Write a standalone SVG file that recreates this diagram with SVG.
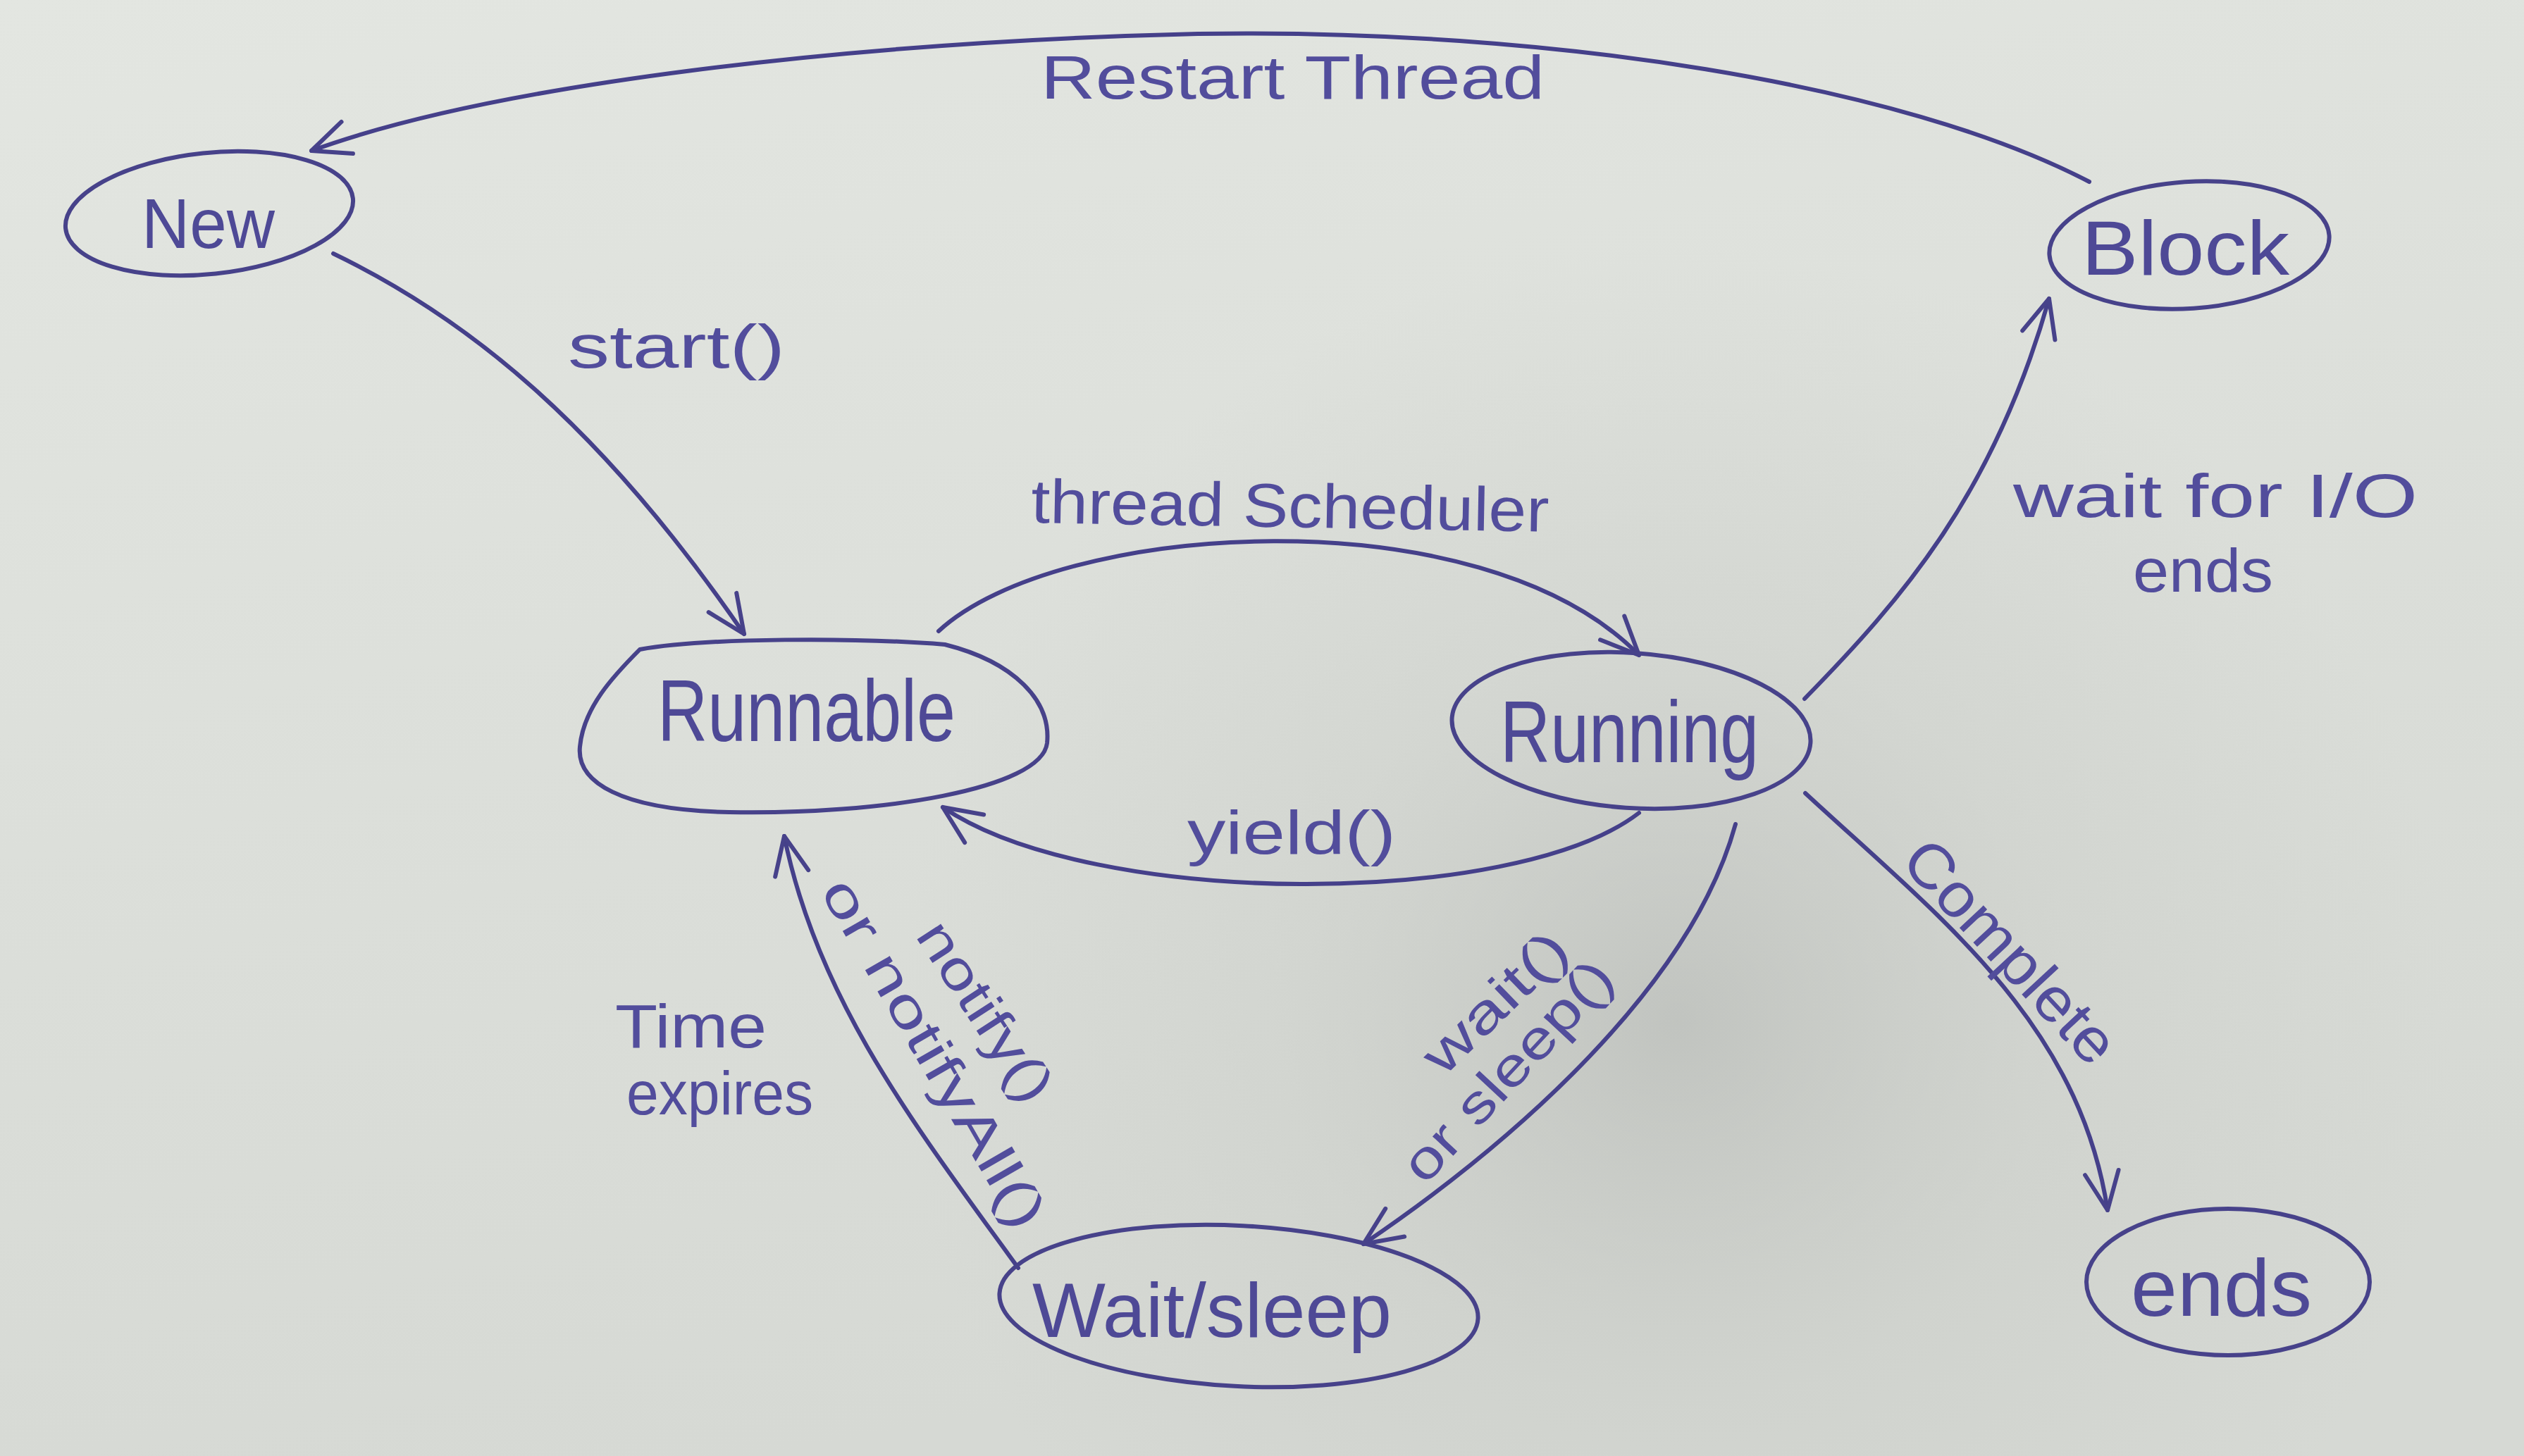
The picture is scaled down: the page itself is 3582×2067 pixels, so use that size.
<svg xmlns="http://www.w3.org/2000/svg" width="3582" height="2067" viewBox="0 0 3582 2067">
  <defs>
    <radialGradient id="shadow" cx="2380" cy="1450" r="1100" gradientUnits="userSpaceOnUse">
      <stop offset="0" stop-color="#b9bcb8" stop-opacity="0.75"/>
      <stop offset="0.5" stop-color="#c6c9c4" stop-opacity="0.35"/>
      <stop offset="1" stop-color="#c6c9c4" stop-opacity="0"/>
    </radialGradient>
    <linearGradient id="paper" x1="0" y1="0" x2="0.3" y2="1">
      <stop offset="0" stop-color="#e3e6e1"/>
      <stop offset="1" stop-color="#d6d9d4"/>
    </linearGradient>
    <marker id="arrow" viewBox="0 0 22 20" markerWidth="66" markerHeight="60" refX="20" refY="10" orient="auto" markerUnits="userSpaceOnUse">
      <path d="M2,2 L20,10 L2,18" fill="none" stroke="#47428a" stroke-width="2" stroke-linecap="round" stroke-linejoin="round"/>
    </marker>
    <style>
      .shape { fill: none; stroke: #47428a; stroke-width: 6; stroke-linecap: round; stroke-linejoin: round; }
      .edge { fill: none; stroke: #45408a; stroke-width: 6; stroke-linecap: round; marker-end: url(#arrow); }
      .node-text { font-family: "Liberation Sans", "DejaVu Sans", sans-serif; fill: #4e4996; }
      .label { font-family: "Liberation Sans", "DejaVu Sans", sans-serif; fill: #524d9c; font-size: 88px; }
      .small { font-size: 76px; }
    </style>
  </defs>

  <rect x="0" y="0" width="3582" height="2067" fill="url(#paper)"/>
  <rect x="0" y="0" width="3582" height="2067" fill="url(#shadow)"/>

  <g id="connectors">
    <path id="edge-block-new" class="edge" d="M2965,258 C2700,120 2200,40 1700,48 C1200,60 700,120 442,214"/>
    <path id="edge-new-runnable" class="edge" d="M473,360 C660,450 850,600 1056,900"/>
    <path id="edge-runnable-running" class="edge" d="M1332,896 C1500,740 2100,700 2326,930"/>
    <path id="edge-running-runnable" class="edge" d="M2326,1154 C2150,1290 1550,1290 1338,1146"/>
    <path id="edge-running-block" class="edge" d="M2561,992 C2700,850 2830,700 2908,424"/>
    <path id="edge-running-ends" class="edge" d="M2562,1126 C2750,1300 2950,1450 2991,1718"/>
    <path id="edge-running-wait" class="edge" d="M2463,1170 C2400,1400 2150,1620 1935,1766"/>
    <path id="edge-wait-runnable" class="edge" d="M1445,1800 C1300,1600 1160,1420 1113,1187"/>

    <text class="label" x="1477" y="140" textLength="715" lengthAdjust="spacingAndGlyphs" font-size="96">Restart Thread</text>
    <text class="label" x="806" y="522" textLength="308" lengthAdjust="spacingAndGlyphs">start()</text>
    <text class="label" x="1463" y="742" textLength="735" lengthAdjust="spacingAndGlyphs" transform="rotate(1 1463 742)">thread Scheduler</text>
    <text class="label" x="1685" y="1212" textLength="296" lengthAdjust="spacingAndGlyphs">yield()</text>
    <text class="label" x="2857" y="734" textLength="574" lengthAdjust="spacingAndGlyphs">wait for I/O</text>
    <text class="label" x="3027" y="840" font-size="80" textLength="199" lengthAdjust="spacingAndGlyphs">ends</text>
    <text class="label" x="2695" y="1225" textLength="400" lengthAdjust="spacingAndGlyphs" transform="rotate(47 2695 1225)">Complete</text>
    <text class="label small" x="2048" y="1530" textLength="255" lengthAdjust="spacingAndGlyphs" transform="rotate(-44 2048 1530)">wait()</text>
    <text class="label small" x="2022" y="1684" textLength="400" lengthAdjust="spacingAndGlyphs" transform="rotate(-47 2022 1684)">or sleep()</text>
    <text class="label small" x="1298" y="1328" textLength="290" lengthAdjust="spacingAndGlyphs" transform="rotate(57 1298 1328)">notify()</text>
    <text class="label small" x="1163" y="1265" textLength="560" lengthAdjust="spacingAndGlyphs" transform="rotate(60 1163 1265)">or notifyAll()</text>
    <text class="label" x="873" y="1487" textLength="215" lengthAdjust="spacingAndGlyphs">Time</text>
    <text class="label" x="889" y="1582" textLength="265" lengthAdjust="spacingAndGlyphs">expires</text>
  </g>

  <g id="node-new">
    <ellipse class="shape" cx="297" cy="303" rx="205" ry="86" transform="rotate(-6 297 303)"/>
    <text class="node-text" x="201" y="352" font-size="100" textLength="189" lengthAdjust="spacingAndGlyphs">New</text>
  </g>

  <g id="node-block">
    <ellipse class="shape" cx="3107" cy="348" rx="199" ry="90" transform="rotate(-4 3107 348)"/>
    <text class="node-text" x="2954" y="390" font-size="110" textLength="295" lengthAdjust="spacingAndGlyphs">Block</text>
  </g>

  <g id="node-runnable">
    <path class="shape" d="M908,922 C1000,905 1220,905 1341,915 C1440,940 1492,995 1486,1055 C1478,1120 1250,1157 1035,1153 C880,1150 818,1110 823,1060 C828,1005 870,960 908,922 Z"/>
    <text class="node-text" x="933" y="1052" font-size="125" textLength="423" lengthAdjust="spacingAndGlyphs">Runnable</text>
  </g>

  <g id="node-running">
    <ellipse class="shape" cx="2315" cy="1037" rx="255" ry="110" transform="rotate(4 2315 1037)"/>
    <text class="node-text" x="2129" y="1082" font-size="125" textLength="367" lengthAdjust="spacingAndGlyphs">Running</text>
  </g>

  <g id="node-wait">
    <ellipse class="shape" cx="1758" cy="1854" rx="340" ry="114" transform="rotate(3 1758 1854)"/>
    <text class="node-text" x="1465" y="1898" font-size="110" textLength="510" lengthAdjust="spacingAndGlyphs">Wait/sleep</text>
  </g>

  <g id="node-ends">
    <ellipse class="shape" cx="3162" cy="1820" rx="201" ry="104"/>
    <text class="node-text" x="3024" y="1868" font-size="115" textLength="257" lengthAdjust="spacingAndGlyphs">ends</text>
  </g>
</svg>
